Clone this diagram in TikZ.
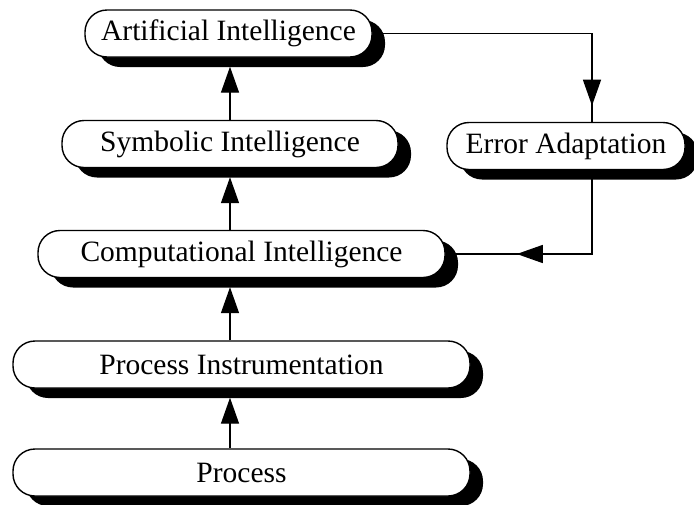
\documentclass[tikz,border=0pt]{standalone}
\usepackage{fontspec}
\setmainfont{Liberation Serif}
\usetikzlibrary{arrows.meta,shadows,decorations.markings}
\begin{document}
\begin{tikzpicture}[x=1pt,y=-1pt,
  stage/.style={draw=black, line width=1.4pt, fill=white, rounded corners=22pt,
    minimum height=47pt, inner sep=0pt,
    font=\fontsize{29.5}{34}\selectfont,
    drop shadow={shadow xshift=13pt, shadow yshift=-10pt, fill=black, opacity=1}},
  bigtip/.tip={Triangle[length=26pt,width=18pt]},
  link/.style={line width=1.4pt},
  uplink/.style={link, -bigtip, shorten >=9pt}]
\useasboundingbox (0,0) rectangle (694,504);

\node[stage, minimum width=287pt] (ai)   at (228.5,33.5) {Artificial Intelligence};
\node[stage, minimum width=336pt] (sym)  at (230,144)    {Symbolic Intelligence};
\node[stage, minimum width=238pt] (err)  at (566,146)    {Error Adaptation};
\node[stage, minimum width=407pt] (comp) at (241.5,254)  {Computational Intelligence};
\node[stage, minimum width=457pt] (inst) at (241.5,364.5){Process Instrumentation};
\node[stage, minimum width=457pt] (proc) at (241.5,472.5){Process};

% upward chain of levels
\draw[uplink] (proc.north -| 230,0) -- (inst.south -| 230,0);
\draw[uplink] (inst.north -| 230,0) -- (comp.south -| 230,0);
\draw[uplink] (comp.north -| 230,0) -- (sym.south -| 230,0);
\draw[uplink] (sym.north -| 230,0) -- (ai.south -| 230,0);

% feedback loop through error adaptation
\draw[link, postaction={decorate}, decoration={markings,
    mark=at position 291.5pt with {\arrow{bigtip}}}]
  (ai.east) -| ([xshift=26pt]err.north);
\draw[link, postaction={decorate}, decoration={markings,
    mark=at position 159pt with {\arrow{bigtip}}}]
  ([xshift=26pt]err.south) |- (comp.east);
\end{tikzpicture}
\end{document}
